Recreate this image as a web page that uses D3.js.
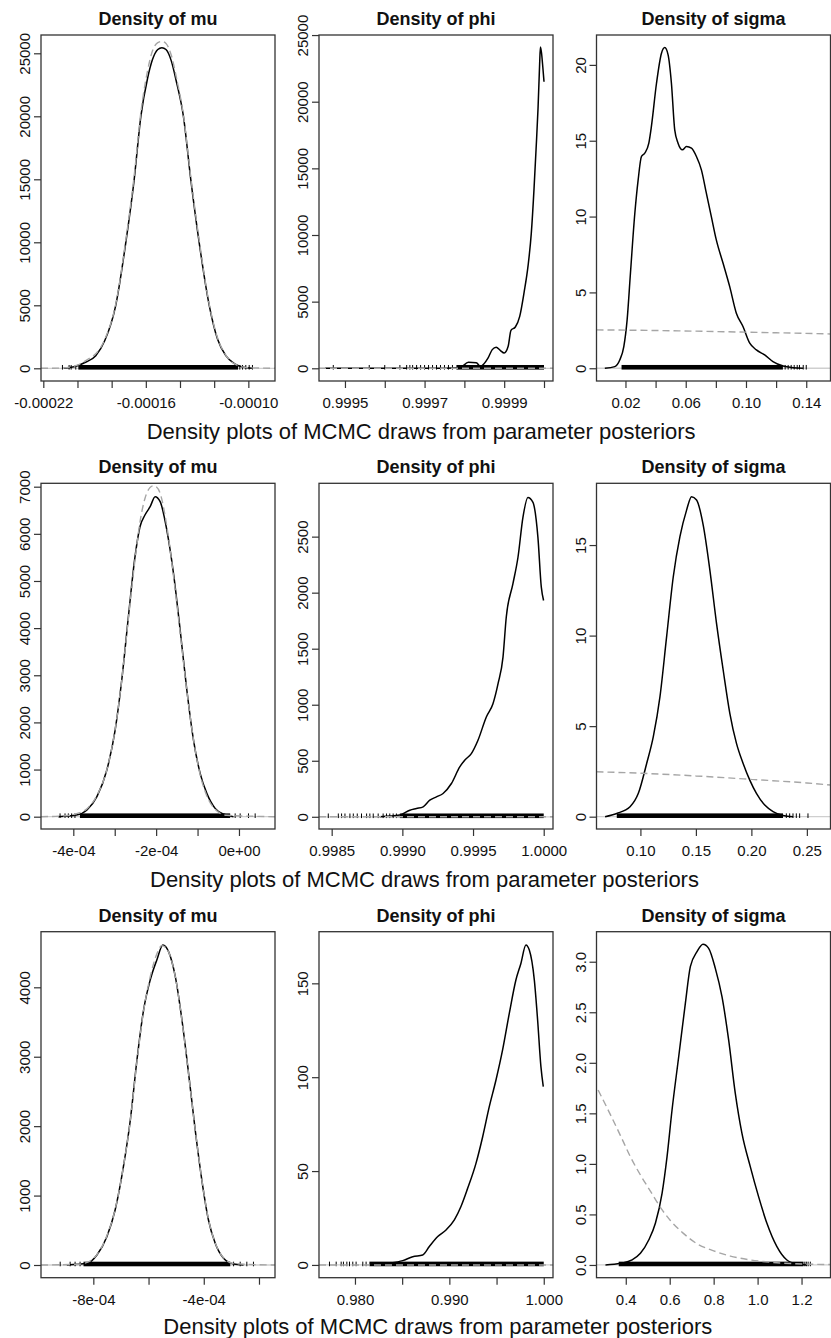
<!DOCTYPE html>
<html><head><meta charset="utf-8">
<script src="https://cdn.jsdelivr.net/npm/d3@7"></script>
<style>
body{margin:0;background:#fff;}
svg text{font-family:"Liberation Sans", Arial, Helvetica, sans-serif;}
</style></head><body>
<svg id="chart" width="831" height="1338"></svg>
<script>
// ---------------- DATA ----------------
const panelTitles = ["Density of mu", "Density of phi", "Density of sigma"];
const footerText = "Density plots of MCMC draws from parameter posteriors";

// Row 1 — mu
const r1MuXlim = [-0.00022135, -0.0000844];
const r1MuYlim = [-1008, 26452];
const r1MuXticks = [-0.00022, -0.00020, -0.00018, -0.00016, -0.00014, -0.00012, -0.00010];
const r1MuXlabels = ["-0.00022", "", "", "-0.00016", "", "", "-0.00010"];
const r1MuYticks = [0, 5000, 10000, 15000, 20000, 25000];
const r1MuYlabels = ["0", "5000", "10000", "15000", "20000", "25000"];
const r1MuCurve = [[-0.0002080,0],[-0.0002020,120],[-0.0001950,500],[-0.0001893,1000],[-0.0001840,2200],[-0.0001776,5000],[-0.0001717,10000],[-0.0001668,15000],[-0.0001629,20000],[-0.0001590,23000],[-0.0001561,24500],[-0.0001530,25300],[-0.0001506,25450],[-0.0001482,25300],[-0.0001451,24400],[-0.0001422,22800],[-0.0001380,20000],[-0.0001337,15000],[-0.0001288,10000],[-0.0001229,5000],[-0.0001180,2300],[-0.0001132,1000],[-0.0001080,350],[-0.0001030,80],[-0.0000980,0]];
const r1MuPrior = [[-0.00022135,0],[-0.000210,15],[-0.000200,250],[-0.000193,800],[-0.0001893,1150],[-0.000184,2300],[-0.0001776,5100],[-0.0001717,10200],[-0.0001668,15300],[-0.0001629,20300],[-0.000159,23600],[-0.0001561,25200],[-0.000153,25850],[-0.0001506,25950],[-0.000148,25750],[-0.000145,24800],[-0.000142,23000],[-0.000138,20100],[-0.0001337,15200],[-0.0001288,10200],[-0.0001229,5100],[-0.000118,2400],[-0.0001132,1050],[-0.000108,350],[-0.000100,50],[-0.0000844,0]];
const r1MuRugDense = [-0.0001995, -0.000106];
const r1MuRugSparse = [-0.0002088, -0.0002049, -0.0002037, -0.000201, -0.0001050, -0.0001034, -0.0001015, -0.0000995, -0.0000976];

// Row 1 — phi
const r1PhiXlim = [0.9994348, 1.0000226];
const r1PhiYlim = [-953, 25004];
const r1PhiXticks = [0.9995, 0.9996, 0.9997, 0.9998, 0.9999, 1.0000];
const r1PhiXlabels = ["0.9995", "", "0.9997", "", "0.9999", ""];
const r1PhiYticks = [0, 5000, 10000, 15000, 20000, 25000];
const r1PhiYlabels = ["0", "5000", "10000", "15000", "20000", "25000"];
const r1PhiCurve = [[0.99945,0],[0.99975,5],[0.99979,60],[0.99981,450],[0.99983,420],[0.99984,150],[0.99986,800],[0.99987,1400],[0.99988,1580],[0.99989,1350],[0.99990,1150],[0.99991,1650],[0.999917,2850],[0.999928,3100],[0.999939,3900],[0.99995,5700],[0.99996,7700],[0.999968,10100],[0.999975,13500],[0.99998,16400],[0.999985,19500],[0.999989,22800],[0.999991,24100],[0.999994,23600],[0.999997,22600],[1.0,21500]];
const r1PhiPrior = [[0.9994348,0],[1.0000226,0]];
const r1PhiRugDense = [0.99978, 1.0];
const r1PhiRugSparse = [0.9994707, 0.999561, 0.9996, 0.999638, 0.999655, 0.999663, 0.99967, 0.99968, 0.99969, 0.9997, 0.99971, 0.99972, 0.99973, 0.99974, 0.99975, 0.99976, 0.99977];

// Row 1 — sigma
const r1SigXlim = [0.00077, 0.1561];
const r1SigYlim = [-0.84, 21.97];
const r1SigXticks = [0.02, 0.04, 0.06, 0.08, 0.10, 0.12, 0.14];
const r1SigXlabels = ["0.02", "", "0.06", "", "0.10", "", "0.14"];
const r1SigYticks = [0, 5, 10, 15, 20];
const r1SigYlabels = ["0", "5", "10", "15", "20"];
const r1SigCurve = [[0.0063,0],[0.0129,0.11],[0.0162,0.55],[0.0189,1.43],[0.0211,3.19],[0.0233,6.26],[0.0262,10.2],[0.0284,12.4],[0.0306,13.96],[0.0328,14.18],[0.0355,14.84],[0.0372,15.93],[0.0406,18.79],[0.0439,20.77],[0.0461,21.14],[0.0483,20.66],[0.0505,18.79],[0.0527,15.71],[0.0549,14.84],[0.0578,14.4],[0.0605,14.62],[0.0638,14.51],[0.0671,13.96],[0.0704,13.08],[0.0737,11.54],[0.0770,10.0],[0.0803,8.46],[0.0848,6.92],[0.0892,5.38],[0.0936,3.63],[0.0980,2.75],[0.1025,1.65],[0.1069,1.21],[0.1124,0.88],[0.1179,0.44],[0.1246,0.15],[0.1312,0.04],[0.1378,0]];
const r1SigPrior = [[0.00077,2.53],[0.04,2.49],[0.08,2.42],[0.12,2.34],[0.1561,2.26]];
const r1SigRugDense = [0.0174, 0.1245];
const r1SigRugSparse = [0.126, 0.128, 0.130, 0.132, 0.134, 0.1355, 0.138, 0.140];

// Row 2 — mu
const r2MuXlim = [-0.000478, 0.000087];
const r2MuYlim = [-261, 7072];
const r2MuXticks = [-0.0004, -0.0003, -0.0002, -0.0001, 0];
const r2MuXlabels = ["-4e-04", "", "-2e-04", "", "0e+00"];
const r2MuYticks = [0, 1000, 2000, 3000, 4000, 5000, 6000, 7000];
const r2MuYlabels = ["0", "1000", "2000", "3000", "4000", "5000", "6000", "7000"];
const r2MuCurve = [[-0.000436,0],[-0.000392,35],[-0.000367,141],[-0.000343,424],[-0.000319,990],[-0.000299,1838],[-0.000283,2899],[-0.000267,4242],[-0.000251,5515],[-0.000239,6151],[-0.000227,6399],[-0.0002145,6576],[-0.0002024,6788],[-0.0001903,6682],[-0.0001742,6081],[-0.0001581,5162],[-0.000142,3960],[-0.0001259,2687],[-0.0001098,1626],[-0.0000937,919],[-0.0000776,495],[-0.0000575,177],[-0.0000374,57],[-0.0000132,0]];
const r2MuPrior = [[-0.000478,0],[-0.00042,20],[-0.00039,70],[-0.000367,170],[-0.000343,450],[-0.000319,1000],[-0.000299,1850],[-0.000283,2900],[-0.000267,4200],[-0.000251,5450],[-0.000239,6250],[-0.000227,6750],[-0.000215,6980],[-0.000207,7020],[-0.0002,7000],[-0.00019,6850],[-0.000174,6150],[-0.000158,5100],[-0.000142,3900],[-0.000126,2680],[-0.00011,1650],[-0.000094,900],[-0.000078,450],[-0.000058,160],[-0.00003,30],[0.000087,0]];
const r2MuRugDense = [-0.000384, -0.0000213];
const r2MuRugSparse = [-0.000432, -0.00042, -0.000412, -0.000404, -0.000396, -0.0000092, 0.0000029, 0.000023, 0.0000391];

// Row 2 — phi
const r2PhiXlim = [0.9984103, 1.0000657];
const r2PhiYlim = [-109, 2976];
const r2PhiXticks = [0.9985, 0.9990, 0.9995, 1.0000];
const r2PhiXlabels = ["0.9985", "0.9990", "0.9995", "1.0000"];
const r2PhiYticks = [0, 500, 1000, 1500, 2000, 2500];
const r2PhiYlabels = ["0", "500", "1000", "1500", "2000", "2500"];
const r2PhiCurve = [[0.998841,0],[0.998982,15],[0.999053,59],[0.9991,74],[0.999147,89],[0.999194,148],[0.999241,178],[0.999288,208],[0.999347,297],[0.999406,445],[0.999441,505],[0.999488,564],[0.999535,683],[0.999594,891],[0.999641,1009],[0.999677,1188],[0.999712,1425],[0.999735,1781],[0.999782,2078],[0.999818,2316],[0.999853,2672],[0.999888,2850],[0.999924,2806],[0.999959,2494],[0.999983,2049],[0.999999,1930]];
const r2PhiPrior = [[0.9984103,0],[1.0000657,0]];
const r2PhiRugDense = [0.998982, 1.0];
const r2PhiRugSparse = [0.998476, 0.998547, 0.99857, 0.998594, 0.998629, 0.998653, 0.998681, 0.998711, 0.998747, 0.99877, 0.998794, 0.998829, 0.998864, 0.998888, 0.998911, 0.998935, 0.998958];

// Row 2 — sigma
const r2SigXlim = [0.06043, 0.2713];
const r2SigYlim = [-0.68, 18.41];
const r2SigXticks = [0.10, 0.15, 0.20, 0.25];
const r2SigXlabels = ["0.10", "0.15", "0.20", "0.25"];
const r2SigYticks = [0, 5, 10, 15];
const r2SigYlabels = ["0", "5", "10", "15"];
const r2SigCurve = [[0.06817,0],[0.07866,0.18],[0.09065,0.55],[0.09814,1.29],[0.10564,2.94],[0.11163,4.42],[0.11763,6.63],[0.12362,9.94],[0.12962,13.25],[0.13561,15.46],[0.14161,16.93],[0.1461,17.67],[0.1506,17.49],[0.15659,16.1],[0.16259,13.62],[0.16859,10.68],[0.17458,8.1],[0.18058,5.71],[0.18657,4.05],[0.19257,2.94],[0.19856,2.02],[0.20456,1.29],[0.21205,0.64],[0.21954,0.28],[0.22854,0.06],[0.23753,0]];
const r2SigPrior = [[0.0604,2.48],[0.10,2.40],[0.15,2.25],[0.20,2.06],[0.25,1.86],[0.2713,1.75]];
const r2SigRugDense = [0.0787, 0.2285];
const r2SigRugSparse = [0.2315, 0.2345, 0.2375, 0.2405, 0.2435, 0.251];

// Row 3 — mu
const r3MuXlim = [-0.0009895, -0.000142];
const r3MuYlim = [-183, 4801];
const r3MuXticks = [-0.0008, -0.0006, -0.0004, -0.0002];
const r3MuXlabels = ["-8e-04", "", "-4e-04", ""];
const r3MuYticks = [0, 1000, 2000, 3000, 4000];
const r3MuYlabels = ["0", "1000", "2000", "3000", "4000"];
const r3MuCurve = [[-0.000896,0],[-0.000823,24],[-0.000787,144],[-0.000751,408],[-0.000721,792],[-0.000691,1416],[-0.000666,2089],[-0.000642,2953],[-0.000618,3673],[-0.000594,4105],[-0.00057,4394],[-0.000548,4610],[-0.0005275,4514],[-0.000503,4153],[-0.000479,3529],[-0.000455,2761],[-0.000431,1945],[-0.000407,1224],[-0.000383,648],[-0.0003585,312],[-0.0003283,96],[-0.000292,14],[-0.000256,0]];
const r3MuPrior = [[-0.0009895,0],[-0.00086,10],[-0.00082,40],[-0.000787,150],[-0.000751,420],[-0.000721,800],[-0.000691,1420],[-0.000666,2080],[-0.000642,2930],[-0.000618,3660],[-0.000594,4150],[-0.00057,4480],[-0.000552,4600],[-0.000535,4560],[-0.000503,4150],[-0.000479,3520],[-0.000455,2750],[-0.000431,1950],[-0.000407,1230],[-0.000383,660],[-0.0003585,320],[-0.00033,110],[-0.00029,20],[-0.000142,0]];
const r3MuRugDense = [-0.0008355, -0.000304];
const r3MuRugSparse = [-0.00092, -0.000884, -0.000866, -0.000848, -0.000292, -0.000268, -0.000244, -0.00022];

// Row 3 — phi
const r3PhiXlim = [0.97619, 1.00098];
const r3PhiYlim = [-6.8, 177.5];
const r3PhiXticks = [0.980, 0.985, 0.990, 0.995, 1.000];
const r3PhiXlabels = ["0.980", "", "0.990", "", "1.000"];
const r3PhiYticks = [0, 50, 100, 150];
const r3PhiYlabels = ["0", "50", "100", "150"];
const r3PhiCurve = [[0.98153,0],[0.98365,0.9],[0.98506,2.3],[0.98612,4.4],[0.98718,5.3],[0.98788,9.8],[0.98877,15.1],[0.98965,18.6],[0.99053,24.0],[0.99123,31.1],[0.99194,40.8],[0.99282,54.1],[0.99353,68.3],[0.99423,84.3],[0.99494,98.5],[0.99564,114.5],[0.99635,134.0],[0.99705,151.8],[0.99758,160.6],[0.99811,170.4],[0.99847,167.7],[0.999,151.8],[0.99935,130.5],[0.9997,105.6],[0.99995,95.0]];
const r3PhiPrior = [[0.97619,0],[1.00098,0]];
const r3PhiRugDense = [0.98153, 1.0];
const r3PhiRugSparse = [0.9773, 0.97801, 0.97854, 0.97878, 0.97914, 0.97942, 0.97977, 0.98012, 0.98083, 0.98118];

// Row 3 — sigma
const r3SigXlim = [0.2668, 1.3318];
const r3SigYlim = [-0.126, 3.297];
const r3SigXticks = [0.4, 0.6, 0.8, 1.0, 1.2];
const r3SigXlabels = ["0.4", "0.6", "0.8", "1.0", "1.2"];
const r3SigYticks = [0, 0.5, 1.0, 1.5, 2.0, 2.5, 3.0];
const r3SigYlabels = ["0.0", "0.5", "1.0", "1.5", "2.0", "2.5", "3.0"];
const r3SigCurve = [[0.3076,0],[0.3758,0.016],[0.4288,0.05],[0.4667,0.115],[0.5045,0.247],[0.5348,0.412],[0.5652,0.709],[0.5879,1.072],[0.6106,1.533],[0.6409,2.06],[0.6712,2.588],[0.6939,2.951],[0.7242,3.099],[0.7515,3.172],[0.7773,3.132],[0.8076,2.934],[0.8379,2.654],[0.8682,2.226],[0.8985,1.698],[0.9288,1.302],[0.9667,0.973],[1.0045,0.676],[1.0424,0.412],[1.0879,0.181],[1.1333,0.049],[1.1788,0.01],[1.2242,0]];
const r3SigPrior = [[0.2742,1.731],[0.3227,1.52],[0.3758,1.28],[0.4212,1.07],[0.4667,0.89],[0.5121,0.73],[0.5576,0.57],[0.603,0.44],[0.6636,0.31],[0.7242,0.21],[0.80,0.14],[0.8758,0.088],[0.9667,0.05],[1.118,0.018],[1.3318,0.004]];
const r3SigRugDense = [0.368, 1.209];
const r3SigRugSparse = [1.215, 1.222, 1.23, 1.24];

// ---------------- TABLE ----------------
const panels = [
  {row:0,col:0,xlim:r1MuXlim,ylim:r1MuYlim,xt:r1MuXticks,xl:r1MuXlabels,yt:r1MuYticks,yl:r1MuYlabels,curve:r1MuCurve,prior:r1MuPrior,rd:r1MuRugDense,rs:r1MuRugSparse},
  {row:0,col:1,xlim:r1PhiXlim,ylim:r1PhiYlim,xt:r1PhiXticks,xl:r1PhiXlabels,yt:r1PhiYticks,yl:r1PhiYlabels,curve:r1PhiCurve,prior:r1PhiPrior,rd:r1PhiRugDense,rs:r1PhiRugSparse},
  {row:0,col:2,xlim:r1SigXlim,ylim:r1SigYlim,xt:r1SigXticks,xl:r1SigXlabels,yt:r1SigYticks,yl:r1SigYlabels,curve:r1SigCurve,prior:r1SigPrior,rd:r1SigRugDense,rs:r1SigRugSparse},
  {row:1,col:0,xlim:r2MuXlim,ylim:r2MuYlim,xt:r2MuXticks,xl:r2MuXlabels,yt:r2MuYticks,yl:r2MuYlabels,curve:r2MuCurve,prior:r2MuPrior,rd:r2MuRugDense,rs:r2MuRugSparse},
  {row:1,col:1,xlim:r2PhiXlim,ylim:r2PhiYlim,xt:r2PhiXticks,xl:r2PhiXlabels,yt:r2PhiYticks,yl:r2PhiYlabels,curve:r2PhiCurve,prior:r2PhiPrior,rd:r2PhiRugDense,rs:r2PhiRugSparse},
  {row:1,col:2,xlim:r2SigXlim,ylim:r2SigYlim,xt:r2SigXticks,xl:r2SigXlabels,yt:r2SigYticks,yl:r2SigYlabels,curve:r2SigCurve,prior:r2SigPrior,rd:r2SigRugDense,rs:r2SigRugSparse},
  {row:2,col:0,xlim:r3MuXlim,ylim:r3MuYlim,xt:r3MuXticks,xl:r3MuXlabels,yt:r3MuYticks,yl:r3MuYlabels,curve:r3MuCurve,prior:r3MuPrior,rd:r3MuRugDense,rs:r3MuRugSparse},
  {row:2,col:1,xlim:r3PhiXlim,ylim:r3PhiYlim,xt:r3PhiXticks,xl:r3PhiXlabels,yt:r3PhiYticks,yl:r3PhiYlabels,curve:r3PhiCurve,prior:r3PhiPrior,rd:r3PhiRugDense,rs:r3PhiRugSparse},
  {row:2,col:2,xlim:r3SigXlim,ylim:r3SigYlim,xt:r3SigXticks,xl:r3SigXlabels,yt:r3SigYticks,yl:r3SigYlabels,curve:r3SigCurve,prior:r3SigPrior,rd:r3SigRugDense,rs:r3SigRugSparse}
];

// ---------------- LAYOUT ----------------
const colLeft = [41, 319, 596.5];
const panelW = 234;
const rowTop = [35, 483.3, 931.7];
const rowBottom = [381, 829, 1277.7];
const titleBase = [25, 473.3, 921.7];
const footX = [146.7, 150, 163.3];
const footBase = [439, 886.5, 1334.3];

const svg = d3.select("#chart");
svg.append("rect").attr("width",831).attr("height",1338).attr("fill","#fff");
const defs = svg.append("defs");

panels.forEach((p, i) => {
  const x0 = colLeft[p.col], x1 = x0 + panelW, y0 = rowTop[p.row], y1 = rowBottom[p.row];
  const x = d3.scaleLinear().domain(p.xlim).range([x0, x1]);
  const y = d3.scaleLinear().domain(p.ylim).range([y1, y0]);
  const g = svg.append("g");
  const cid = "clip" + i;
  defs.append("clipPath").attr("id", cid).append("rect")
    .attr("x", x0).attr("y", y0).attr("width", x1 - x0).attr("height", y1 - y0);
  const pg = g.append("g").attr("clip-path", `url(#${cid})`);

  // zero line
  pg.append("line").attr("x1", x0).attr("x2", x1).attr("y1", y(0)).attr("y2", y(0))
    .attr("stroke", "#cfcfcf").attr("stroke-width", 1.3);
  // rug
  pg.append("rect").attr("x", x(p.rd[0])).attr("width", x(p.rd[1]) - x(p.rd[0]))
    .attr("y", y(0) - 3.3).attr("height", 4.6).attr("fill", "#000");
  pg.selectAll("line.rug").data(p.rs).join("line").attr("class", "rug")
    .attr("x1", d => x(d)).attr("x2", d => x(d))
    .attr("y1", y(0) - 3.3).attr("y2", y(0) + 1.3)
    .attr("stroke", "#000").attr("stroke-width", 1);
  // density curve
  const line = d3.line().x(d => x(d[0])).y(d => y(d[1])).curve(d3.curveMonotoneX);
  pg.append("path").attr("d", line(p.curve)).attr("fill", "none")
    .attr("stroke", "#000").attr("stroke-width", 1.5).attr("stroke-linejoin", "round");
  // prior / approximation (dashed gray)
  pg.append("path").attr("d", line(p.prior)).attr("fill", "none")
    .attr("stroke", "#a6a6a6").attr("stroke-width", 1.4).attr("stroke-dasharray", "7,4");

  // box
  g.append("rect").attr("x", x0).attr("y", y0).attr("width", x1 - x0).attr("height", y1 - y0)
    .attr("fill", "none").attr("stroke", "#333").attr("stroke-width", 1.3);

  // x axis
  const xa = d3.axisBottom(x).tickValues(p.xt).tickFormat((d, k) => p.xl[k]).tickSize(7).tickSizeOuter(0);
  const xg = g.append("g").attr("transform", `translate(0,${y1})`).call(xa);
  xg.select(".domain").remove();
  xg.attr("font-family", null).attr("font-size", 15).attr("color", "#333");
  xg.selectAll("line").attr("stroke-width", 1.2);
  xg.selectAll("text").attr("y", 27).attr("dy", null).attr("fill", "#111");

  // y axis
  const ya = d3.axisLeft(y).tickValues(p.yt).tickFormat((d, k) => p.yl[k]).tickSize(7).tickSizeOuter(0);
  const yg = g.append("g").attr("transform", `translate(${x0},0)`).call(ya);
  yg.select(".domain").remove();
  yg.attr("font-family", null).attr("font-size", 15).attr("color", "#333");
  yg.selectAll("line").attr("stroke-width", 1.2);
  yg.selectAll("text").attr("x", null).attr("dy", null)
    .attr("transform", "translate(-11,0) rotate(-90)")
    .attr("text-anchor", "middle").attr("fill", "#111");

  // panel title
  g.append("text").attr("x", (x0 + x1) / 2).attr("y", titleBase[p.row])
    .attr("text-anchor", "middle").attr("font-weight", "bold").attr("font-size", 18)
    .attr("fill", "#111").text(panelTitles[p.col]);
});

// row footers
[0, 1, 2].forEach(r => {
  svg.append("text").attr("x", footX[r]).attr("y", footBase[r])
    .attr("font-size", 22).attr("fill", "#111").text(footerText);
});
</script>
</body></html>
